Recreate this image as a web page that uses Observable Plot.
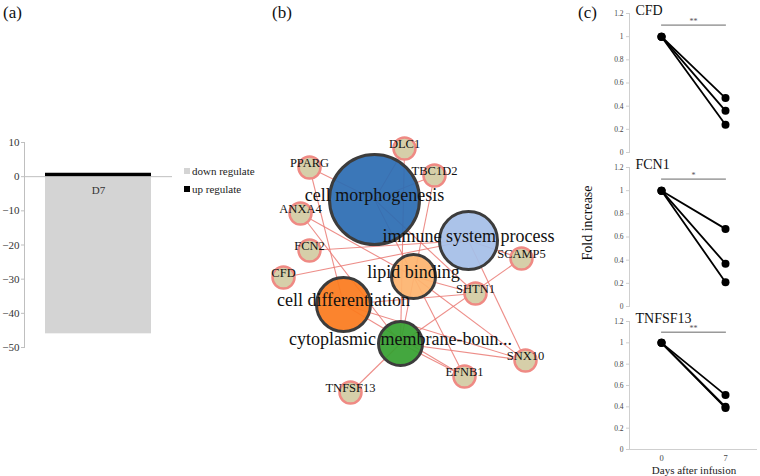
<!DOCTYPE html>
<html><head><meta charset="utf-8">
<script src="https://cdn.jsdelivr.net/npm/d3@7"></script>
<script src="https://cdn.jsdelivr.net/npm/@observablehq/plot@0.6"></script>
<style>
body{margin:0;background:#fff;}
#fig{position:relative;width:760px;height:476px;overflow:hidden;font-family:"Liberation Serif","Times New Roman",serif;background:#fff;color:#111;}
#fig svg{display:block;overflow:visible;}
.plabel{position:absolute;font-size:17px;line-height:17px;white-space:nowrap;}
.leg{position:absolute;font-size:11px;line-height:12px;white-space:nowrap;color:#222;}
.sw{display:inline-block;width:6px;height:6px;margin-right:2px;vertical-align:1px;}
</style></head><body><div id="fig"></div>
<script>
// ---------- Panel (a): regulated genes ----------
const regCategories = ["D7"];
const regSeries = ["down regulate", "up regulate"];
const downRegulated = [-46];
const upRegulated = [1];
const regTicks = [10, 0, -10, -20, -30, -40, -50];

// ---------- Panel (b): GO network ----------
const termNames = ["cell morphogenesis", "immune system process", "lipid binding", "cell differentiation", "cytoplasmic membrane-boun..."];
const geneNames = ["DLC1", "TBC1D2", "PPARG", "ANXA4", "FCN2", "CFD", "SCAMP5", "SHTN1", "SNX10", "EFNB1", "TNFSF13"];
const edgeGenes = ["DLC1","DLC1","TBC1D2","TBC1D2","PPARG","PPARG","ANXA4","ANXA4","FCN2","CFD","SCAMP5","SCAMP5","SHTN1","SHTN1","SHTN1","SNX10","SNX10","SNX10","SNX10","EFNB1","EFNB1","EFNB1","TNFSF13"];
const edgeTerms = ["cell morphogenesis","cytoplasmic membrane-boun...","cell morphogenesis","cytoplasmic membrane-boun...","cell morphogenesis","cell differentiation","lipid binding","cytoplasmic membrane-boun...","immune system process","immune system process","immune system process","cytoplasmic membrane-boun...","cell morphogenesis","cell differentiation","lipid binding","immune system process","lipid binding","cytoplasmic membrane-boun...","cell differentiation","cell morphogenesis","cytoplasmic membrane-boun...","cell differentiation","cytoplasmic membrane-boun..."];
// layout of the network drawing (layout units)
const termLayoutX = [114, 208, 153, 83, 140];
const termLayoutY = [99, 140, 176, 204, 243];
const termLayoutR = [45, 29, 22, 27, 22];
const geneLayoutX = [144, 174, 49, 40, 49, 23, 261, 215, 265, 204, 90];
const geneLayoutY = [48, 75, 67, 113, 150, 177, 158, 193, 260, 276, 292];
const termColors = ["#2c6db3", "#a5bee7", "#fdb46f", "#fb7b1e", "#36a030"];

// ---------- Panel (c): fold increase ----------
const geneTitles = ["CFD", "FCN1", "TNFSF13"];
const dayLabels = ["0", "7"];
const foldDay0 = [[1, 1, 1], [1, 1, 1], [1, 1, 1]];
const foldDay7 = [[0.47, 0.36, 0.24], [0.67, 0.37, 0.21], [0.51, 0.40, 0.39]];
const sigMarks = ["**", "*", "**"];
const sigLevel = [1.1, 1.1, 1.1];
const foldTicks = [0, 0.2, 0.4, 0.6, 0.8, 1, 1.2];

const SERIF = '"Liberation Serif", "Times New Roman", serif';
const fig = document.getElementById("fig");
function place(node, left, top) {
  node.style.position = "absolute";
  node.style.left = left + "px";
  node.style.top = top + "px";
  fig.appendChild(node);
  return node;
}
function html(cls, text, left, top, extra) {
  const d = document.createElement("div");
  d.className = cls;
  d.innerHTML = text;
  if (extra) Object.assign(d.style, extra);
  return place(d, left, top);
}

// Panel labels
html("plabel", "(a)", 3, 4);
html("plabel", "(b)", 272, 4);
html("plabel", "(c)", 578, 4);

// ---------- (a) ----------
const barRows = [];
regCategories.forEach((c, i) => {
  barRows.push({cat: c, kind: regSeries[0], v: downRegulated[i]});
  barRows.push({cat: c, kind: regSeries[1], v: upRegulated[i]});
});
const plotA = Plot.plot({
  width: 260, height: 230, marginTop: 12, marginBottom: 13, marginLeft: 24, marginRight: 88,
  style: {fontFamily: SERIF, fontSize: "11px", color: "#333", background: "transparent"},
  x: {domain: regCategories, padding: 0.165, axis: null},
  y: {domain: [-50, 10], label: null},
  color: {domain: regSeries, range: ["#d4d4d4", "#000000"]},
  marks: [
    Plot.ruleY([0], {stroke: "#bfbfbf"}),
    Plot.barY(barRows, {x: "cat", y: "v", fill: "kind"}),
    Plot.frame({anchor: "left", stroke: "#bfbfbf"}),
    Plot.axisY({ticks: regTicks, tickSize: 3, tickPadding: 2, fontSize: 11, label: null, stroke: "#bfbfbf", fill: "#333"}),
    Plot.text(regCategories, {x: d => d, y: () => 0, text: d => d, dy: 14, fontSize: 11, fill: "#333"})
  ]
});
place(plotA, 0, 130);
html("leg", '<span class="sw" style="background:#d4d4d4"></span>' + regSeries[0], 184, 165);
html("leg", '<span class="sw" style="background:#000"></span>' + regSeries[1], 184, 183);

// ---------- (b) ----------
const termRows = termNames.map((n, i) => ({name: n, x: termLayoutX[i], y: termLayoutY[i], r: termLayoutR[i], color: termColors[i]}));
const geneRows = geneNames.map((n, i) => ({name: n, x: geneLayoutX[i], y: geneLayoutY[i]}));
const termIndex = new Map(termRows.map(d => [d.name, d]));
const geneIndex = new Map(geneRows.map(d => [d.name, d]));
const edgeRows = edgeGenes.map((g, i) => ({g: geneIndex.get(g), t: termIndex.get(edgeTerms[i])}));
const plotB = Plot.plot({
  width: 300, height: 320, margin: 0,
  style: {fontFamily: SERIF, background: "transparent", color: "#111"},
  x: {domain: [0, 300], range: [0, 300], axis: null},
  y: {domain: [0, 320], range: [0, 320], axis: null},
  r: {type: "identity"},
  marks: [
    Plot.link(edgeRows, {x1: d => d.g.x, y1: d => d.g.y, x2: d => d.t.x, y2: d => d.t.y, stroke: "#ea7a74", strokeWidth: 1.1, strokeOpacity: 0.85}),
    Plot.dot(geneRows, {x: "x", y: "y", r: 11, fill: "#d6cfa9", stroke: "#ef8a84", strokeWidth: 2.5}),
    Plot.dot(termRows, {x: "x", y: "y", r: "r", fill: "color", fillOpacity: 0.93, stroke: "#3c3c3c", strokeWidth: 3}),
    Plot.text(geneRows, {x: "x", y: "y", text: "name", dy: -5, fontSize: 12.5, fill: "#111"}),
    Plot.text(termRows, {x: "x", y: "y", text: "name", dy: -4, fontSize: 18, fill: "#111"})
  ]
});
place(plotB, 260, 100);

// ---------- (c) ----------
const cLayout = [
  {top: 0, height: 154, mb: 2},
  {top: 154, height: 154, mb: 2},
  {top: 308, height: 168, mb: 27}
];
const fmt = d => String(+d.toFixed(1));
geneTitles.forEach((g, gi) => {
  const rows = [];
  foldDay7[gi].forEach((v7, s) => {
    rows.push({subj: s, day: dayLabels[0], v: foldDay0[gi][s]});
    rows.push({subj: s, day: dayLabels[1], v: v7});
  });
  const sigRows = dayLabels.map(d => ({day: d, v: sigLevel[gi]}));
  const last = gi === geneTitles.length - 1;
  const L = cLayout[gi];
  const p = Plot.plot({
    width: 180, height: L.height, marginLeft: 49, marginRight: 3, marginTop: 13, marginBottom: L.mb,
    style: {fontFamily: SERIF, background: "transparent", color: "#444"},
    x: {type: "band", domain: dayLabels, padding: 0, axis: null},
    y: {domain: [0, 1.2], label: null},
    marks: [
      Plot.frame({anchor: "left", stroke: "#cfcfcf"}),
      Plot.axisY({ticks: foldTicks, tickFormat: fmt, tickSize: 3, tickPadding: 3, fontSize: 7.5, label: null, stroke: "#cfcfcf", fill: "#444"}),
      last ? Plot.ruleY([0], {stroke: "#cfcfcf"}) : null,
      last ? Plot.axisX({tickSize: 0, tickPadding: 5, fontSize: 8.5, label: null, fill: "#444"}) : null,
      Plot.line(sigRows, {x: "day", y: "v", stroke: "#666", strokeWidth: 1}),
      Plot.text([sigMarks[gi]], {text: d => d, y: () => sigLevel[gi], frameAnchor: "top", lineAnchor: "bottom", dy: -1, fontSize: 8, fill: "#555"}),
      Plot.line(rows, {x: "day", y: "v", z: "subj", stroke: "#000", strokeWidth: 1.8}),
      Plot.dot(rows, {x: "day", y: "v", r: 4, fill: "#000"}),
      Plot.text([g], {text: d => d, frameAnchor: "top-left", dx: 6, lineAnchor: "bottom", dy: 1, fontSize: 14, fill: "#111"})
    ]
  });
  place(p, 580, L.top);
});
html("leg", "Fold increase", 588, 223, {fontSize: "14px", lineHeight: "14px", color: "#111", transform: "translate(-50%,-50%) rotate(-90deg)"});
html("leg", "Days after infusion", 694, 470, {fontSize: "11px", color: "#222", transform: "translate(-50%,-50%)"});
</script>
</body></html>
